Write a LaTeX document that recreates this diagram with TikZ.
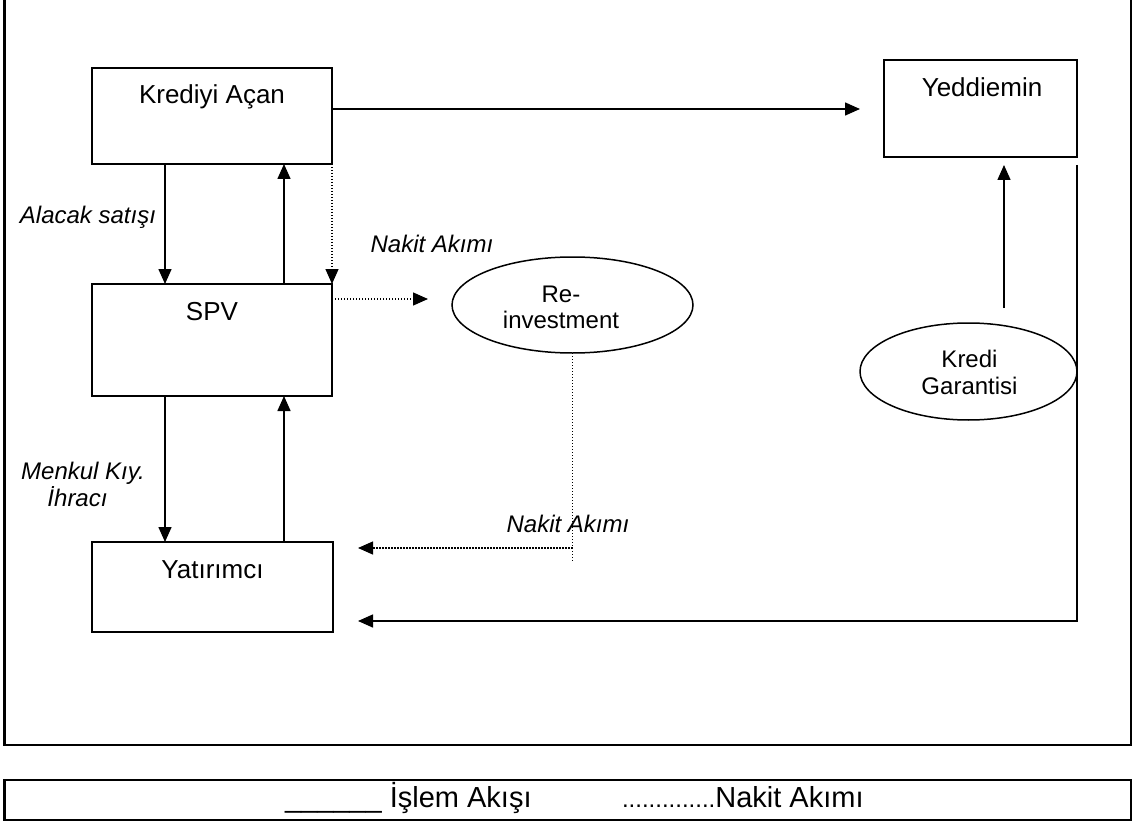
\documentclass[tikz,border=0pt]{standalone}
\usepackage{fontspec}
\setmainfont{Liberation Sans}
\usetikzlibrary{arrows.meta,shapes.geometric}

\begin{document}
\begin{tikzpicture}[
  x=1pt, y=-1pt,
  every node/.style={inner sep=0pt, outer sep=0pt},
  font=\fontsize{26}{28}\selectfont,
  entity/.style={draw, line width=1.5pt, rectangle},
  oval/.style={draw, line width=1.5pt, ellipse},
  ovaltxt/.style={font=\fontsize{24}{26}\selectfont},
  lbl/.style={font=\fontsize{24}{26}\selectfont\itshape},
  legendtxt/.style={font=\fontsize{29}{30}\selectfont},
  flow/.style={line width=1.5pt, -{Triangle[length=15pt,width=13pt]}},
  cash/.style={line width=1.3pt, dash pattern=on 1.3pt off 1.7pt},
  casharrow/.style={cash, -{Triangle[length=15pt,width=13pt]}},
  frame/.style={line width=2.2pt}
]
\clip (0,0) rectangle (1133,824);

% outer frame (its top edge lies above the page) and legend strip
\draw[frame] (4.5,-10) rectangle (1131,745);
\draw[frame] (4.5,780) rectangle (1131,820);

% parties
\node[entity, minimum width=240pt, minimum height=96pt]  (kredi) at (212,116) {};
\node[entity, minimum width=240pt, minimum height=112pt] (spv)   at (212,340) {};
\node[entity, minimum width=241pt, minimum height=90pt]  (yat)   at (212.5,587) {};
\node[entity, minimum width=193pt, minimum height=97pt]  (yed)   at (980.5,108.5) {};

\node[anchor=base] (kreditxt) at (212,104)   {Krediyi Açan};
\node[anchor=base] (spvtxt)   at (212,320)   {SPV};
\node[anchor=base] (yattxt)   at (212.5,578) {Yatırımcı};
\node[anchor=base] (yedtxt)   at (982,97)    {Yeddiemin};

\node[oval, minimum width=241pt, minimum height=96pt] (reinv)   at (572.5,305)   {};
\node[oval, minimum width=217pt, minimum height=97pt] (garanti) at (968.5,371.5) {};

\node[ovaltxt, anchor=base] (reinvA) at (561,302)   {Re-};
\node[ovaltxt, anchor=base] (reinvB) at (561,328)   {investment};
\node[ovaltxt, anchor=base] (garA)   at (969.5,367) {Kredi};
\node[ovaltxt, anchor=base] (garB)   at (969.5,394) {Garantisi};

% flow labels
\node[lbl, anchor=base] (alacak) at (88,223)   {Alacak satışı};
\node[lbl, anchor=base] (nakitA) at (432,252)  {Nakit Akımı};
\node[lbl, anchor=base] (menkul) at (83,479)   {Menkul Kıy.};
\node[lbl, anchor=base] (ihraci) at (77.5,506) {İhracı};
\node[lbl, anchor=base] (nakitB) at (568,532)  {Nakit Akımı};

% free ends of connectors
\coordinate (yedIn)   at (860,109);
\coordinate (reinvIn) at (428,299);
\coordinate (dropEnd) at (572.5,561);
\coordinate (backOut) at (572.5,548);
\coordinate (backIn)  at (358,548);
\coordinate (garOut)  at (1004,308);
\coordinate (garIn)   at (1004,165);
\coordinate (rightTop) at (1077,165);
\coordinate (rightBot) at (1077,621);
\coordinate (yatIn)   at (358,621);

% transaction flows
\draw[flow] (kredi.east |- 0,109) -- (yedIn);
\draw[flow] (165,0 |- kredi.south) -- (165,0 |- spv.north);
\draw[flow] (284,0 |- spv.north) -- (284,0 |- kredi.south);
\draw[flow] (165,0 |- spv.south) -- (165,0 |- yat.north);
\draw[flow] (284,0 |- yat.north) -- (284,0 |- spv.south);
\draw[flow] (garOut) -- (garIn);
\draw[flow] (rightTop) -- (rightBot) -- (yatIn);

% cash flows
\draw[casharrow] (kredi.south east) -- (spv.north east);
\draw[casharrow] (spv.east |- 0,299) -- (reinvIn);
\draw[cash] (reinv.south) -- (dropEnd);
\draw[casharrow] (backOut) -- (backIn);

% legend
\node[legendtxt, anchor=base west] (legflow) at (285,807) {\_\_\_\_\_\_ İşlem Akışı};
\node[legendtxt, anchor=base west] (legcash) at (622,807) {{\fontsize{24}{26}\selectfont ..............}Nakit Akımı};
\end{tikzpicture}
\end{document}
